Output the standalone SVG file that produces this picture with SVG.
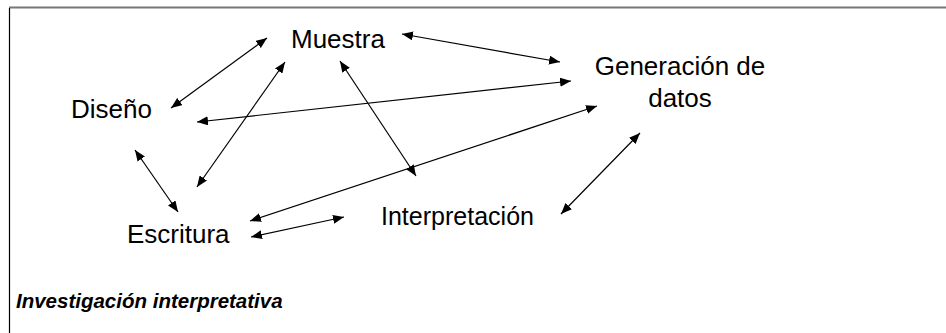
<svg xmlns="http://www.w3.org/2000/svg" width="946" height="333" viewBox="0 0 946 333">
<style>
.lbl{font-family:"Liberation Sans",Arial,sans-serif;font-size:26px;fill:#000}
.cap{font-family:"Liberation Sans",Arial,sans-serif;font-size:20.5px;font-weight:bold;font-style:italic;fill:#000}
.edge{stroke:#000;stroke-width:1.2;fill:none;marker-start:url(#ah);marker-end:url(#ah)}
</style>
<defs>
<marker id="ah" viewBox="0 0 11 9" markerUnits="userSpaceOnUse" markerWidth="11" markerHeight="9" refX="11" refY="4.5" orient="auto-start-reverse">
<path d="M0,0 L11,4.5 L0,9 z" fill="#000"/>
</marker>
</defs>
<rect width="946" height="333" fill="#fff"/>
<g id="frame">
<line x1="9" y1="7.5" x2="946" y2="7.5" stroke="#777" stroke-width="2"/>
<line x1="9.5" y1="8" x2="9.5" y2="333" stroke="#000" stroke-width="1.2"/>
</g>
<g id="connectors">
<line class="edge" x1="171" y1="108" x2="267" y2="38"/>
<line class="edge" x1="402" y1="34" x2="560" y2="62"/>
<line class="edge" x1="197" y1="122" x2="571" y2="81"/>
<line class="edge" x1="197" y1="187" x2="285" y2="62"/>
<line class="edge" x1="340" y1="61" x2="416" y2="176"/>
<line class="edge" x1="250" y1="221" x2="597" y2="106"/>
<line class="edge" x1="135" y1="150" x2="178" y2="212"/>
<line class="edge" x1="251" y1="237" x2="344" y2="217"/>
<line class="edge" x1="561" y1="214" x2="640" y2="133"/>
</g>
<g id="node-muestra"><text class="lbl" x="291" y="48">Muestra</text></g>
<g id="node-diseno"><text class="lbl" x="71" y="118">Diseño</text></g>
<g id="node-generacion"><text class="lbl" x="680" y="75" text-anchor="middle">Generación de</text><text class="lbl" x="680" y="107" text-anchor="middle">datos</text></g>
<g id="node-escritura"><text class="lbl" x="127" y="243">Escritura</text></g>
<g id="node-interpretacion"><text class="lbl" x="381" y="225" textLength="153" lengthAdjust="spacingAndGlyphs">Interpretación</text></g>
<g id="caption"><text class="cap" x="16" y="308">Investigación interpretativa</text></g>
</svg>
